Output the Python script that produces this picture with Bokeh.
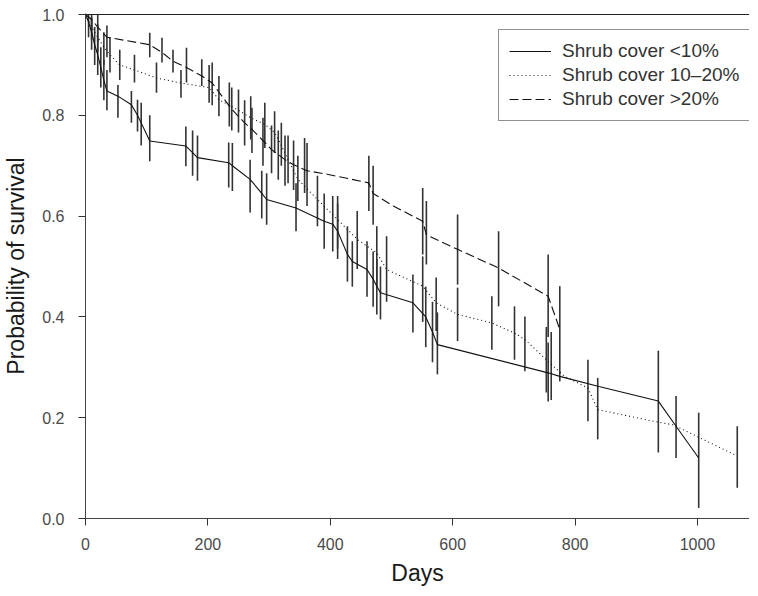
from bokeh.plotting import figure
from bokeh.models import Range1d, Legend, LegendItem, FixedTicker, NumeralTickFormatter, Span
from bokeh.embed import file_html
from bokeh.resources import INLINE

# ---- data ----
solid_days = [0, 5, 10, 15, 20, 25, 30, 35, 53, 75, 85, 91, 105, 164, 175, 183, 234, 240, 269, 288,
              296, 344, 390, 404, 412, 428, 436, 460, 470, 476, 482, 535, 556, 567, 575, 756, 775,
              839, 936, 965, 1002]
solid_surv = [1.0, .985, .965, .94, .92, .895, .87, .848, .838, .821, .80, .785, .749, .739, .726, .716,
              .706, .70, .673, .645, .633, .616, .59, .584, .57, .524, .51, .494, .475, .461, .448,
              .428, .40, .37, .345, .289, .282, .262, .233, .183, .12]
solid_lo = [None, .955, .93, .90, .88, .855, .83, .81, .795, .785, .768, .74, .709, .699, .68, .67,
            .657, .65, .607, .595, .583, .57, .535, .53, .515, .47, .46, .44, .42, .405, .395,
            .369, .34, .31, .286, .232, None, None, .131, .12, .021]
solid_hi = [None, 1.0, .99, .975, .955, .935, .91, .89, .86, .848, .831, .825, .80, .778, .77, .76,
            .746, .745, .712, .69, .685, .665, .645, .64, .625, .58, .55, .55, .53, .515, .50,
            .484, .46, .43, .409, .349, None, None, .333, .243, .21]

dotted_days = [0, 10, 20, 30, 40, 56, 80, 116, 156, 202, 218, 235, 250, 270, 293, 309, 320, 331, 347,
               379, 412, 444, 476, 492, 551, 573, 608, 664, 701, 718, 753, 761, 783, 821, 837, 928,
               960, 1004, 1065]
dotted_surv = [1.0, .975, .955, .935, .92, .90, .89, .874, .864, .855, .831, .82, .81, .795, .782, .766,
               .74, .712, .673, .633, .593, .554, .527, .494, .461, .428, .405, .388, .368, .355, .315,
               .306, .282, .259, .216, .193, .186, .16, .124]
dotted_lo = [None, .95, .925, .90, .885, .87, .865, .845, .835, .825, .798, .778, .766, .752, .735, .725,
             .70, .665, .63, .58, .535, .495, .46, .43, .39, .372, .352, .335, .315, .292, .25,
             .235, None, .193, .157, None, None, None, .061]
dotted_hi = [None, .995, .98, .965, .955, .93, .92, .905, .89, .90, .878, .865, .851, .838, .825, .808,
             .785, .76, .72, .68, .64, .61, .58, .56, .52, .478, .458, .441, .421, .401, .38,
             .37, None, .315, .279, None, None, None, .183]

dashed_days = [0, 10, 20, 35, 105, 125, 143, 165, 190, 207, 239, 260, 272, 290, 304, 315, 326, 340,
               358, 362, 395, 463, 470, 503, 551, 557, 608, 675, 756, 775]
dashed_surv = [1.0, .99, .975, .955, .94, .925, .907, .895, .878, .864, .812, .785, .772, .75, .732,
               .722, .712, .702, .692, .690, .683, .666, .645, .62, .59, .563, .534, .497, .441, .375]
dashed_lo = [None, .97, .945, .915, .915, .905, .885, .865, .858, .82, .77, .74, .725, .70, .685,
             .672, .66, .652, .646, .62, None, .61, .583, None, .524, .504, .464, .421, .36, .272]
dashed_hi = [None, 1.0, 1.0, .978, .964, .954, .93, .934, .911, .905, .855, .83, .815, .795, .78,
             .77, .76, .75, .755, .745, None, .72, .70, None, .656, .63, .603, .57, .524, .461]

labels = ["Shrub cover <10%", "Shrub cover 10\u201320%", "Shrub cover >20%"]
x_ticks = [0, 200, 400, 600, 800, 1000]
y_ticks = [0.0, 0.2, 0.4, 0.6, 0.8, 1.0]

FONT = "Liberation Sans"

p = figure(width=749, height=588, output_backend="svg", toolbar_location=None,
           x_range=Range1d(0, 1085), y_range=Range1d(0, 1.002),
           min_border_left=77, min_border_top=13, min_border_right=0, min_border_bottom=40)
p.outline_line_color = None
p.grid.grid_line_color = None
p.background_fill_color = "white"
p.border_fill_color = "white"

for ax in (p.xaxis[0], p.yaxis[0]):
    ax.major_label_text_font = FONT
    ax.major_label_text_font_size = "16px"
    ax.major_label_text_color = "#4a4a4a"
    ax.axis_label_text_font = FONT
    ax.axis_label_text_font_size = "23px"
    ax.axis_label_text_font_style = "normal"
    ax.axis_label_text_color = "#1a1a1a"
    ax.minor_tick_line_color = None
    ax.major_tick_out = 7
    ax.major_tick_in = 0
    ax.major_tick_line_color = "#333333"
    ax.axis_line_color = "#444444"

p.xaxis.ticker = FixedTicker(ticks=x_ticks)
p.yaxis.ticker = FixedTicker(ticks=y_ticks)
p.yaxis.formatter = NumeralTickFormatter(format="0.0")
p.xaxis.axis_label = "Days"
p.yaxis.axis_label = "Probability of survival"
p.xaxis.major_label_standoff = 12
p.yaxis.major_label_standoff = 14
p.xaxis.axis_label_standoff = 7
p.yaxis.axis_label_standoff = 10

p.add_layout(Span(location=y_ticks[-1], dimension="width", line_color="#222222", line_width=1))


def bars(days, lo, hi):
    xs = [d for d, a in zip(days, lo) if a is not None]
    y0 = [a for a in lo if a is not None]
    y1 = [b for a, b in zip(lo, hi) if a is not None]
    return xs, y0, y1

for days, lo, hi in ((solid_days, solid_lo, solid_hi),
                     (dotted_days, dotted_lo, dotted_hi),
                     (dashed_days, dashed_lo, dashed_hi)):
    xs, y0, y1 = bars(days, lo, hi)
    p.segment(x0=xs, y0=y0, x1=xs, y1=y1, line_color="#333333", line_width=1.6)

r1 = p.line(solid_days, solid_surv, line_color="#111111", line_width=1.1)
r2 = p.line(dotted_days, dotted_surv, line_color="#111111", line_width=1.1, line_dash="1 3")
r3 = p.line(dashed_days, dashed_surv, line_color="#111111", line_width=1.1, line_dash="9 4")

legend = Legend(items=[LegendItem(label=labels[0], renderers=[r1]),
                       LegendItem(label=labels[1], renderers=[r2]),
                       LegendItem(label=labels[2], renderers=[r3])],
                location=(413, 397))
legend.label_text_font = FONT
legend.label_text_font_size = "19px"
legend.label_text_color = "#333333"
legend.glyph_width = 42
legend.glyph_height = 20
legend.label_height = 20
legend.label_standoff = 11
legend.spacing = 2
legend.padding = 10
legend.margin = 0
legend.border_line_color = "#222222"
legend.border_line_width = 1
legend.background_fill_alpha = 1.0
p.add_layout(legend, "center")

open("out.html", "w").write(file_html(p, INLINE))
